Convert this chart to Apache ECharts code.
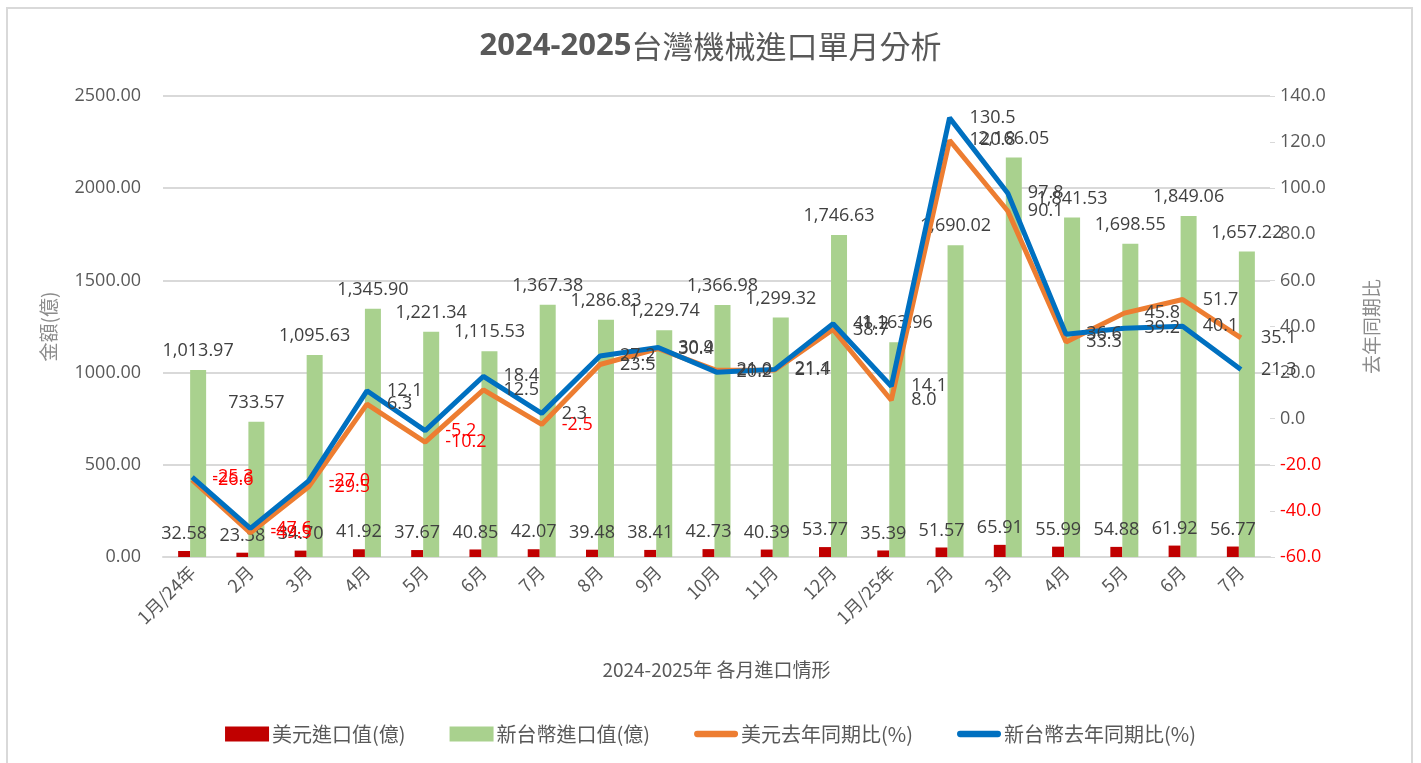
<!DOCTYPE html>
<html>
<head>
<meta charset="utf-8">
<script src="https://cdn.jsdelivr.net/npm/echarts@6/dist/echarts.min.js"></script>
<style>
html,body{margin:0;padding:0;background:#fff;}
#wrap{position:relative;width:1421px;height:763px;}
#chart{position:absolute;left:0;top:0;width:1421px;height:763px;}
#frame{position:absolute;left:6px;top:7px;width:1403px;height:770px;border:2px solid #d9d9d9;pointer-events:none;}
</style>
</head>
<body>
<div id="wrap"><div id="chart"></div><div id="frame"></div></div>
<script>
var categories = ['1月/24年','2月','3月','4月','5月','6月','7月','8月','9月','10月','11月','12月','1月/25年','2月','3月','4月','5月','6月','7月'];
var usdImport = [32.58,23.38,34.70,41.92,37.67,40.85,42.07,39.48,38.41,42.73,40.39,53.77,35.39,51.57,65.91,55.99,54.88,61.92,56.77];
var twdImport = [1013.97,733.57,1095.63,1345.90,1221.34,1115.53,1367.38,1286.83,1229.74,1366.98,1299.32,1746.63,1163.96,1690.02,2166.05,1841.53,1698.55,1849.06,1657.22];
var usdYoY = [-26.6,-49.5,-29.5,6.3,-10.2,12.5,-2.5,23.5,30.4,21.0,21.1,38.7,8.0,120.8,90.1,33.3,45.8,51.7,35.1];
var twdYoY = [-25.3,-47.6,-27.0,12.1,-5.2,18.4,2.3,27.2,30.9,20.2,21.4,41.2,14.1,130.5,97.8,36.6,39.2,40.1,21.3];
var leftTicks = {min:0, max:2500, interval:500};
var rightTicks = {min:-60, max:140, interval:20};

var FONT = "'Open Sans','Noto Sans CJK TC',sans-serif";
var CJK = "'Noto Sans CJK TC','Open Sans',sans-serif";
var LINE_ICON = 'path://M3,0 L39,0 A3,3 0 0 1 39,6 L3,6 A3,3 0 0 1 3,0 Z';

function fmtThousands(v){
  var s = v.toFixed(2).split('.');
  return s[0].replace(/\B(?=(\d{3})+(?!\d))/g, ',') + '.' + s[1];
}
function lineData(arr){
  return arr.map(function(v){
    return {value:v, label:{color: v < 0 ? '#FF0000' : '#404040'}};
  });
}

var chart = echarts.init(document.getElementById('chart'));
chart.setOption({
  animation:false,
  textStyle:{fontFamily:FONT},
  title:{
    text:'{a|2024-2025}{b|台灣機械進口單月分析}',
    left:'center', top:26,
    textStyle:{
      rich:{
        a:{fontFamily:FONT, fontSize:31, fontWeight:'bold', color:'#595959'},
        b:{fontFamily:CJK, fontSize:31, fontWeight:'normal', color:'#595959'}
      }
    }
  },
  legend:{
    top:719, left:'center',
    itemWidth:44, itemHeight:15, itemGap:44,
    symbolKeepAspect:true,
    textStyle:{fontFamily:CJK, fontSize:20, color:'#595959', padding:[0,0,0,-2]},
    data:[
      {name:'美元進口值(億)', icon:'rect'},
      {name:'新台幣進口值(億)', icon:'rect'},
      {name:'美元去年同期比(%)', icon:LINE_ICON, itemStyle:{color:'#ED7D31'}},
      {name:'新台幣去年同期比(%)', icon:LINE_ICON, itemStyle:{color:'#0070C0'}}
    ]
  },
  grid:{left:163, right:151, top:96, bottom:206, containLabel:false},
  xAxis:{
    type:'category',
    data:categories,
    name:'2024-2025年 各月進口情形',
    nameLocation:'middle', nameGap:103,
    nameTextStyle:{fontFamily:CJK, fontSize:19, color:'#595959'},
    axisLine:{lineStyle:{color:'#d9d9d9', width:2}},
    axisTick:{show:false},
    axisLabel:{rotate:45, fontFamily:CJK, fontSize:18, color:'#595959', margin:12, interval:0}
  },
  yAxis:[
    {
      type:'value', min:leftTicks.min, max:leftTicks.max, interval:leftTicks.interval,
      name:'金額(億)', nameLocation:'middle', nameGap:105, nameRotate:90,
      nameTextStyle:{fontFamily:CJK, fontSize:19, color:'#8c8c8c'},
      axisLine:{show:false}, axisTick:{show:false},
      axisLabel:{fontSize:18, color:'#595959', margin:22, formatter:function(v){return v.toFixed(2);}},
      splitLine:{lineStyle:{color:'#d9d9d9', width:2}}
    },
    {
      type:'value', min:rightTicks.min, max:rightTicks.max, interval:rightTicks.interval,
      name:'去年同期比', nameLocation:'middle', nameGap:92, nameRotate:90,
      nameTextStyle:{fontFamily:CJK, fontSize:19, color:'#8c8c8c'},
      axisLine:{show:false},
      axisTick:{show:true, length:5, lineStyle:{color:'#d9d9d9'}},
      axisLabel:{fontSize:18, margin:10,
        formatter:function(v){ return v < 0 ? '{n|' + v.toFixed(1) + '}' : '{p|' + v.toFixed(1) + '}'; },
        rich:{n:{color:'#FF0000', fontSize:18, fontFamily:FONT}, p:{color:'#595959', fontSize:18, fontFamily:FONT}}
      },
      splitLine:{show:false}
    }
  ],
  series:[
    {
      name:'美元進口值(億)', type:'bar', yAxisIndex:0, data:usdImport,
      barWidth:12, itemStyle:{color:'#C00000'},
      label:{show:true, position:'top', distance:8, fontSize:18, color:'#404040', formatter:function(p){return p.value.toFixed(2);}}
    },
    {
      name:'新台幣進口值(億)', type:'bar', yAxisIndex:0, data:twdImport,
      barWidth:16, barGap:'0%', itemStyle:{color:'#A9D18E'},
      label:{show:true, position:'top', distance:10, fontSize:18, color:'#404040', formatter:function(p){return fmtThousands(p.value);}}
    },
    {
      name:'美元去年同期比(%)', type:'line', yAxisIndex:1, data:lineData(usdYoY),
      showSymbol:true, showAllSymbol:true, symbol:'circle', symbolSize:0.1,
      lineStyle:{color:'#ED7D31', width:5}, itemStyle:{color:'#ED7D31'},
      label:{show:true, position:'right', distance:20, fontSize:18, formatter:function(p){return p.value.toFixed(1);}}
    },
    {
      name:'新台幣去年同期比(%)', type:'line', yAxisIndex:1, data:lineData(twdYoY),
      showSymbol:true, showAllSymbol:true, symbol:'circle', symbolSize:0.1,
      lineStyle:{color:'#0070C0', width:5}, itemStyle:{color:'#0070C0'},
      label:{show:true, position:'right', distance:20, fontSize:18, formatter:function(p){return p.value.toFixed(1);}}
    }
  ]
});
</script>
</body>
</html>
